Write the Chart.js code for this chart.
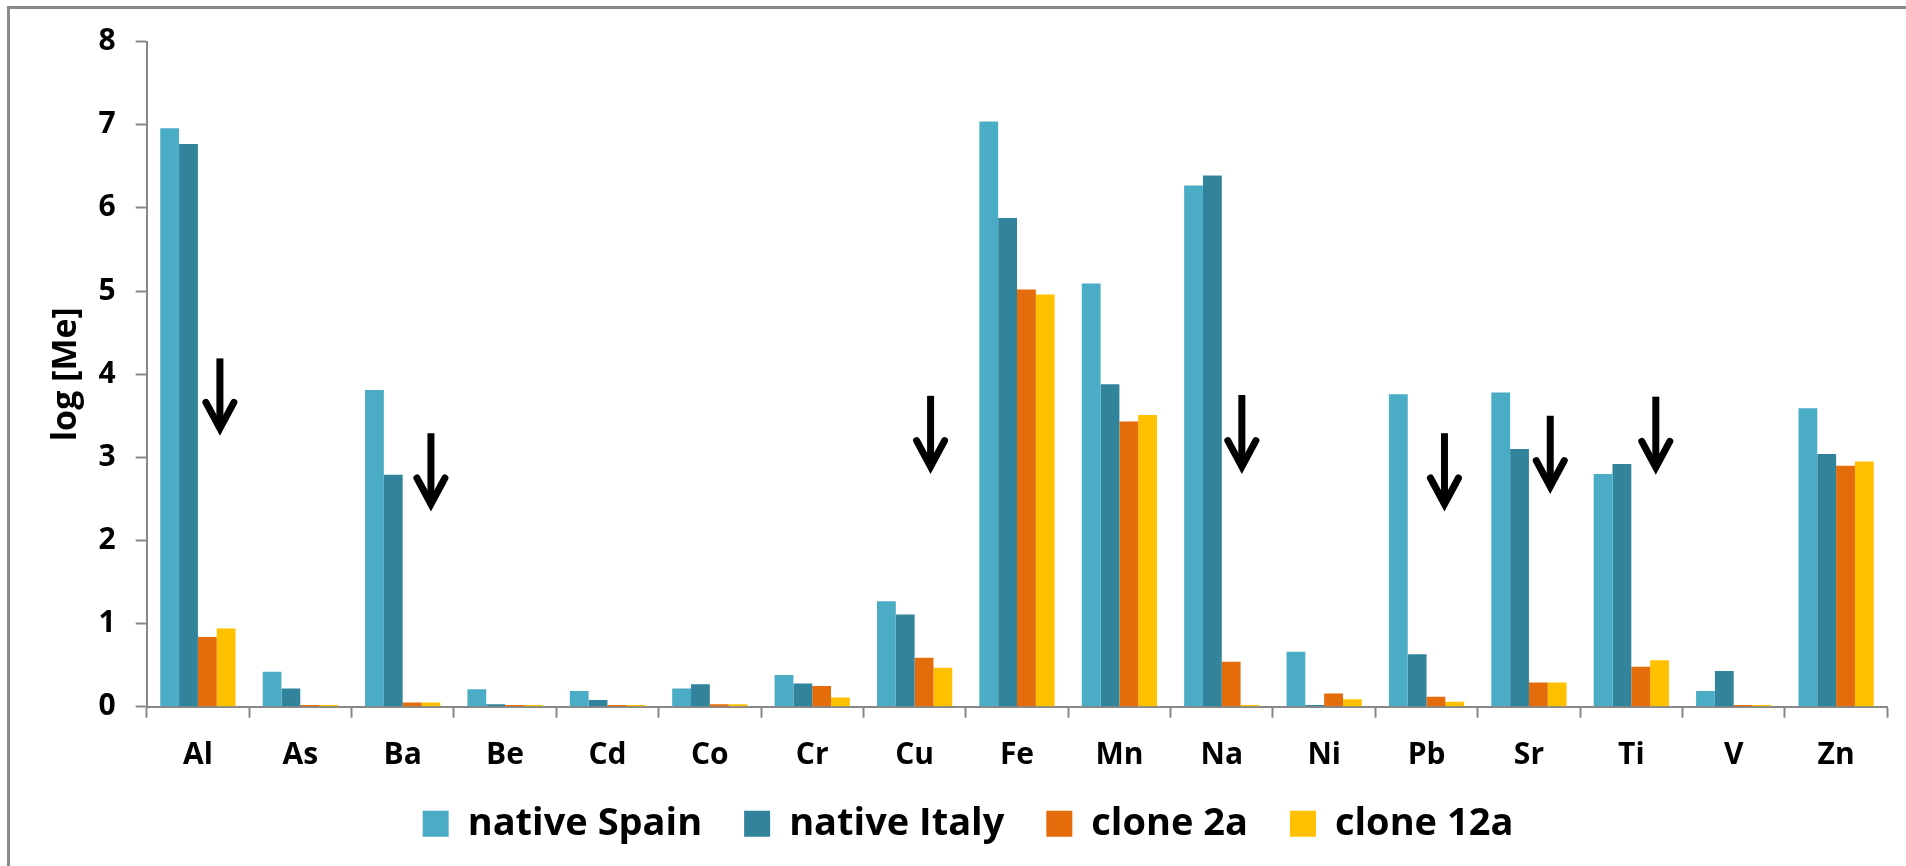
<!DOCTYPE html>
<html><head><meta charset="utf-8">
<script src="https://cdn.jsdelivr.net/npm/chart.js@4/dist/chart.umd.min.js"></script>
<style>
html,body{margin:0;padding:0;background:#fff;overflow:hidden;width:1906px;height:866px;}
#frame{position:absolute;left:7px;top:6px;width:2000px;height:1000px;border-left:3px solid #8a8a8a;border-top:3px solid #8a8a8a;}
#c{position:absolute;left:0;top:0;width:1906px;height:866px;}
</style></head><body>
<div id="frame"></div>
<canvas id="c" width="1906" height="866"></canvas>
<script>
const elements = ['Al','As','Ba','Be','Cd','Co','Cr','Cu','Fe','Mn','Na','Ni','Pb','Sr','Ti','V','Zn'];
const seriesNames = ['native Spain','native Italy','clone 2a','clone 12a'];
const nativeSpain = [6.96,0.42,3.81,0.21,0.19,0.22,0.38,1.27,7.04,5.09,6.27,0.66,3.76,3.78,2.80,0.19,3.59];
const nativeItaly = [6.77,0.22,2.79,0.03,0.08,0.27,0.28,1.11,5.88,3.88,6.39,0.02,0.63,3.10,2.92,0.43,3.04];
const clone2a     = [0.84,0.02,0.05,0.02,0.02,0.03,0.25,0.59,5.02,3.43,0.54,0.16,0.12,0.29,0.48,0.02,2.90];
const clone12a    = [0.94,0.02,0.05,0.02,0.02,0.03,0.11,0.47,4.96,3.51,0.02,0.09,0.06,0.29,0.56,0.02,2.95];
const yTicks = [0,1,2,3,4,5,6,7,8];
// arrows marking decreases: element, offset within category (fraction), value at top, value at tip
const arrowElements = ['Al','Ba','Cu','Na','Pb','Sr','Ti'];
const arrowShift    = [0.215,0.276,0.156,0.196,0.175,0.208,0.239];
const arrowTop      = [4.19,3.29,3.74,3.75,3.29,3.50,3.73];
const arrowTip      = [3.30,2.39,2.84,2.84,2.39,2.60,2.83];

const colors = ['#4BACC6','#31849B','#E46C0A','#FFC000'];
const FONT = "'Open Sans', sans-serif";
const LEGEND_ITEM_TOP = 804.7;

const arrowPlugin = {
  id: 'arrows',
  afterDatasetsDraw(chart) {
    const ctx = chart.ctx, xs = chart.scales.x, ys = chart.scales.y;
    const catW = xs.getPixelForValue(1) - xs.getPixelForValue(0);
    ctx.save();
    ctx.strokeStyle = '#000';
    ctx.lineWidth = 7;
    arrowElements.forEach((el, i) => {
      const idx = elements.indexOf(el);
      const x = xs.getPixelForValue(idx) + arrowShift[i] * catW;
      const yT = ys.getPixelForValue(arrowTop[i]);
      const yB = ys.getPixelForValue(arrowTip[i]);
      ctx.lineCap = 'butt';
      ctx.beginPath(); ctx.moveTo(x, yT); ctx.lineTo(x, yB - 6); ctx.stroke();
      ctx.lineCap = 'round'; ctx.lineJoin = 'miter';
      ctx.beginPath(); ctx.moveTo(x - 14, yB - 30); ctx.lineTo(x, yB - 4); ctx.lineTo(x + 14, yB - 30); ctx.stroke();
    });
    ctx.restore();
  }
};

const legendShift = {
  id: 'legendShift',
  afterLayout(chart) {
    const l = chart.legend;
    const d = LEGEND_ITEM_TOP - (l.top + l.options.labels.padding);
    l.top += d; l.bottom += d;
  }
};

const series = [nativeSpain, nativeItaly, clone2a, clone12a];
new Chart(document.getElementById('c'), {
  type: 'bar',
  data: {
    labels: elements,
    datasets: series.map((d, i) => ({
      label: seriesNames[i], data: d, backgroundColor: colors[i], borderWidth: 0,
      categoryPercentage: 0.735, barPercentage: 1.0
    }))
  },
  options: {
    responsive: false, animation: false, devicePixelRatio: 1,
    layout: { padding: { left: 48.7, right: 18.7, top: 41.7, bottom: 0 } },
    plugins: {
      tooltip: { enabled: false },
      legend: {
        position: 'bottom', maxHeight: 89.3,
        labels: {
          boxWidth: 26, boxHeight: 26, padding: 42, color: '#000',
          font: { family: FONT, size: 38, weight: 'bold' }
        }
      }
    },
    scales: {
      x: {
        grid: { display: true, drawOnChartArea: false, offset: true, tickLength: 11, tickColor: '#888', tickWidth: 2 },
        border: { display: true, color: '#888', width: 2 },
        ticks: { color: '#000', padding: 20, font: { family: FONT, size: 30, weight: 'bold' }, maxRotation: 0 },
        afterFit(s) { s.height = 70; }
      },
      y: {
        min: 0, max: 8,
        afterBuildTicks(s) { s.ticks = yTicks.map(v => ({ value: v })); },
        grid: { display: true, drawOnChartArea: false, tickLength: 11, tickColor: '#888', tickWidth: 2 },
        border: { display: true, color: '#888', width: 2 },
        ticks: { color: '#000', padding: 20, font: { family: FONT, size: 30, weight: 'bold' } },
        title: { display: true, text: 'log [Me]', color: '#000', padding: { top: 1, bottom: 0 },
                 font: { family: FONT, size: 34, weight: 'bold', lineHeight: 1 } },
        afterFit(s) { s.width = 98; }
      }
    }
  },
  plugins: [arrowPlugin, legendShift]
});
</script>
</body></html>
